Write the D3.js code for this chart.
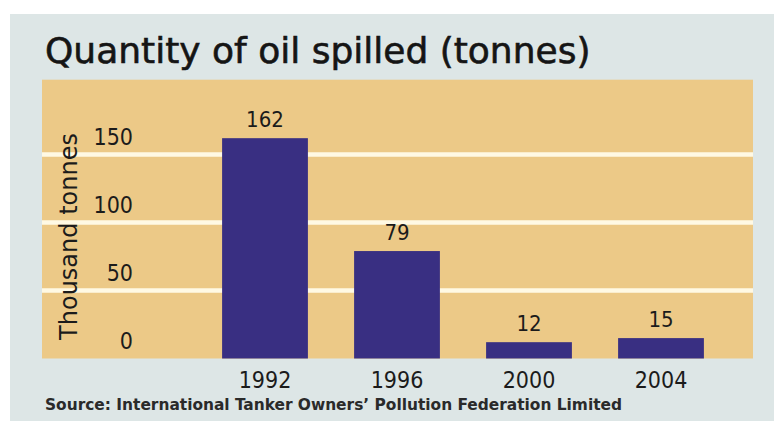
<!DOCTYPE html>
<html>
<head>
<meta charset="utf-8">
<script src="https://cdn.jsdelivr.net/npm/d3@7"></script>
<style>
  html, body { margin: 0; padding: 0; background: #ffffff; }
  svg { display: block; }
</style>
</head>
<body>
<svg id="chart" width="774" height="421"></svg>
<script>
// Oil spilled from tankers, thousand tonnes
const years = ["1992", "1996", "2000", "2004"];
const spilled = [162, 79, 12, 15];
const yTicks = [0, 50, 100, 150];
const gridValues = [50, 100, 150];

const titleText = "Quantity of oil spilled (tonnes)";
const yAxisTitle = "Thousand tonnes";
const sourceText = "Source: International Tanker Owners\u2019 Pollution Federation Limited";

const svg = d3.select("#chart");

const panel = { x: 10, y: 14, w: 764, h: 407 };
const plot = { left: 42, right: 753, top: 79.7, bottom: 358.5 };

const numFont = "'DejaVu Sans Condensed', 'DejaVu Sans', sans-serif";
const textColor = "#1b1b1b";

// Background panel
svg.append("rect")
  .attr("x", panel.x).attr("y", panel.y)
  .attr("width", panel.w).attr("height", panel.h)
  .attr("fill", "#dde6e6");

// Scales
const y = d3.scaleLinear().domain([0, 205]).range([plot.bottom, plot.top]);
const x = d3.scaleBand().domain(years).range([199, 727])
  .paddingInner(0.35).paddingOuter(0.175);

// Plot area
svg.append("rect")
  .attr("x", plot.left).attr("y", plot.top)
  .attr("width", plot.right - plot.left).attr("height", plot.bottom - plot.top)
  .attr("fill", "#ecc987");

// Gridlines
svg.append("g").selectAll("line").data(gridValues).join("line")
  .attr("x1", plot.left).attr("x2", plot.right)
  .attr("y1", d => y(d)).attr("y2", d => y(d))
  .attr("stroke", "#fff9e4").attr("stroke-width", 4.5);

// Bars
svg.append("g").selectAll("rect").data(years).join("rect")
  .attr("x", d => x(d))
  .attr("width", x.bandwidth())
  .attr("y", (d, i) => y(spilled[i]))
  .attr("height", (d, i) => y(0) - y(spilled[i]))
  .attr("fill", "#392f82");

// Value labels
svg.append("g").selectAll("text").data(years).join("text")
  .attr("x", d => x(d) + x.bandwidth() / 2)
  .attr("y", (d, i) => y(spilled[i]) - 11)
  .attr("text-anchor", "middle")
  .attr("font-family", numFont).attr("font-size", 22)
  .attr("fill", textColor)
  .text((d, i) => spilled[i]);

// Y tick labels sit just above their gridlines
const yAxis = d3.axisLeft(y).tickValues(yTicks).tickSize(0).tickPadding(0);
const yg = svg.append("g").attr("transform", "translate(133,0)").call(yAxis);
yg.select(".domain").remove();
yg.selectAll("text")
  .attr("x", 0).attr("dy", "-10px")
  .attr("font-family", numFont).attr("font-size", 23)
  .attr("fill", textColor);

// X axis labels
const xAxis = d3.axisBottom(x).tickSize(0).tickPadding(0);
const xg = svg.append("g").attr("transform", `translate(0,${plot.bottom})`).call(xAxis);
xg.select(".domain").remove();
xg.selectAll("text")
  .attr("y", 0).attr("dy", "29px")
  .attr("font-family", numFont).attr("font-size", 23)
  .attr("fill", textColor);

// Y axis title
svg.append("text")
  .attr("transform", "translate(77,236.5) rotate(-90)")
  .attr("text-anchor", "middle")
  .attr("font-family", "'DejaVu Sans', sans-serif").attr("font-size", 24)
  .attr("fill", textColor)
  .text(yAxisTitle);

// Title
svg.append("text")
  .attr("x", 45).attr("y", 63)
  .attr("font-family", "'DejaVu Sans', sans-serif").attr("font-size", 36)
  .attr("fill", "#151515")
  .attr("stroke", "#151515").attr("stroke-width", 0.6)
  .text(titleText);

// Source note
svg.append("text")
  .attr("x", 45).attr("y", 410)
  .attr("font-family", "'DejaVu Sans Condensed', 'DejaVu Sans', sans-serif")
  .attr("font-size", 15).attr("font-weight", "bold")
  .attr("textLength", 577).attr("lengthAdjust", "spacingAndGlyphs")
  .attr("fill", "#2a2a2a")
  .text(sourceText);
</script>
</body>
</html>
